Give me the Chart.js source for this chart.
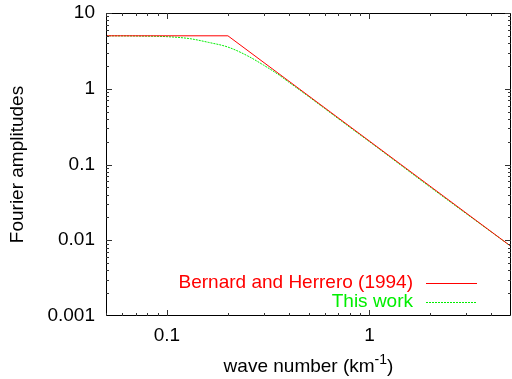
<!DOCTYPE html>
<html>
<head>
<meta charset="utf-8">
<script src="https://cdn.jsdelivr.net/npm/chart.js@4.4.0/dist/chart.umd.min.js"></script>
<style>
  html, body { margin: 0; padding: 0; background: #fff; }
  #wrap { width: 512px; height: 379px; }
</style>
</head>
<body>
<div id="wrap"><canvas id="spectrum" width="512" height="379"></canvas></div>
<script>
const FONT = '"Liberation Sans", Arial, Helvetica, sans-serif';

// wave number (1/km) -> Fourier amplitude
const bhWave = [0.05, 0.2, 5];
const bhAmp = [5, 5, 0.0083];

const fitWave = [0.05, 0.07, 0.1, 0.13, 0.16, 0.2, 0.25, 0.3, 0.35, 0.4, 0.5, 0.6, 0.8, 1, 2, 5];
const fitAmp = [5, 4.97, 4.87, 4.58, 4.1, 3.55, 2.72, 2.05, 1.58, 1.22, 0.79, 0.55, 0.31, 0.2, 0.05, 0.0083];

const xTickValues = [0.1, 1];
const xTickLabels = ["0.1", "1"];
const yTickValues = [0.001, 0.01, 0.1, 1, 10];
const yTickLabels = ["0.001", "0.01", "0.1", "1", "10"];

const seriesNames = ["Bernard and Herrero (1994)", "This work"];
const seriesColors = ["#ff0000", "#00ee00"];

function toPoints(xs, ys) {
  return xs.map((v, i) => ({ x: v, y: ys[i] }));
}

// gnuplot-like frame: border, inward major/minor ticks, legend and axis titles
const framePlugin = {
  id: 'frame',
  afterDatasetsDraw(chart) {
    const { ctx, chartArea: a, scales: { x, y } } = chart;
    ctx.save();
    ctx.strokeStyle = '#000';
    ctx.lineWidth = 1;
    ctx.beginPath();
    ctx.rect(a.left + 0.5, a.top + 0.5, a.right - a.left - 1, a.bottom - a.top - 1);
    ctx.stroke();

    ctx.strokeStyle = '#333';
    ctx.beginPath();
    const xTick = (v, len) => {
      const px = Math.round(x.getPixelForValue(v)) + 0.5;
      if (px < a.left || px > a.right) return;
      ctx.moveTo(px, a.bottom); ctx.lineTo(px, a.bottom - len);
      ctx.moveTo(px, a.top); ctx.lineTo(px, a.top + len);
    };
    const yTick = (v, len) => {
      const py = Math.round(y.getPixelForValue(v)) + 0.5;
      if (py < a.top || py > a.bottom) return;
      ctx.moveTo(a.left, py); ctx.lineTo(a.left + len, py);
      ctx.moveTo(a.right, py); ctx.lineTo(a.right - len, py);
    };
    for (let d = 0.01; d < 10; d *= 10) {
      for (let m = 1; m <= 9; m++) xTick(d * m, m === 1 ? 6 : 3);
    }
    for (let d = 0.001; d <= 10; d *= 10) {
      for (let m = 1; m <= 9; m++) yTick(d * m, m === 1 ? 6 : 3);
    }
    ctx.stroke();

    // key, right aligned inside the plot
    ctx.font = '19px ' + FONT;
    ctx.textAlign = 'right';
    ctx.textBaseline = 'middle';
    chart.data.datasets.forEach((ds, i) => {
      const ly = a.bottom - 33 + i * 19;
      ctx.fillStyle = ds.borderColor;
      ctx.fillText(ds.label, a.right - 98, ly);
      ctx.strokeStyle = ds.borderColor;
      ctx.setLineDash(ds.borderDash || []);
      ctx.beginPath();
      ctx.moveTo(a.right - 85, Math.round(ly) + 0.5);
      ctx.lineTo(a.right - 34, Math.round(ly) + 0.5);
      ctx.stroke();
    });
    ctx.setLineDash([]);

    // axis titles
    ctx.fillStyle = '#000';
    ctx.textBaseline = 'alphabetic';
    ctx.textAlign = 'left';
    const main = 'wave number (km';
    const sup = '-1';
    const close = ')';
    ctx.font = '19px ' + FONT;
    const w1 = ctx.measureText(main).width;
    const w3 = ctx.measureText(close).width;
    ctx.font = '14px ' + FONT;
    const w2 = ctx.measureText(sup).width;
    let tx = (a.left + a.right) / 2 - (w1 + w2 + w3) / 2;
    const base = 372;
    ctx.font = '19px ' + FONT;
    ctx.fillText(main, tx, base);
    ctx.font = '14px ' + FONT;
    ctx.fillText(sup, tx + w1, base - 8);
    ctx.font = '19px ' + FONT;
    ctx.fillText(close, tx + w1 + w2, base);

    ctx.translate(18, (a.top + a.bottom) / 2);
    ctx.rotate(-Math.PI / 2);
    ctx.textAlign = 'center';
    ctx.textBaseline = 'middle';
    ctx.fillText('Fourier amplitudes', 0, 0);
    ctx.restore();
  }
};

new Chart(document.getElementById('spectrum').getContext('2d'), {
  type: 'scatter',
  data: {
    datasets: [
      {
        label: seriesNames[0],
        data: toPoints(bhWave, bhAmp),
        borderColor: seriesColors[0],
        borderWidth: 1,
        showLine: true,
        pointRadius: 0,
        tension: 0
      },
      {
        label: seriesNames[1],
        data: toPoints(fitWave, fitAmp),
        borderColor: seriesColors[1],
        borderWidth: 1,
        borderDash: [2, 1],
        showLine: true,
        pointRadius: 0,
        cubicInterpolationMode: 'monotone'
      }
    ]
  },
  options: {
    responsive: false,
    animation: false,
    devicePixelRatio: 1,
    layout: { padding: { top: 13, right: 1, left: 0, bottom: 0 } },
    plugins: { legend: { display: false }, tooltip: { enabled: false } },
    scales: {
      x: {
        type: 'logarithmic',
        min: 0.05,
        max: 5,
        afterBuildTicks: (scale) => { scale.ticks = xTickValues.map(v => ({ value: v })); },
        afterFit: (scale) => { scale.height = 63; },
        grid: { display: false, drawTicks: false },
        border: { display: false },
        ticks: {
          autoSkip: false,
          maxRotation: 0,
          padding: 8,
          color: '#000',
          font: { family: FONT, size: 19 },
          callback: (v, i) => xTickLabels[i]
        }
      },
      y: {
        type: 'logarithmic',
        min: 0.001,
        max: 10,
        afterBuildTicks: (scale) => { scale.ticks = yTickValues.map(v => ({ value: v })); },
        afterFit: (scale) => {
          scale.width = 106;
          // labels may overhang the frame; keep the plot edges fixed
          scale.paddingTop = 0;
          scale.paddingBottom = 0;
        },
        grid: { display: false, drawTicks: false },
        border: { display: false },
        ticks: {
          autoSkip: false,
          padding: 11,
          color: '#000',
          font: { family: FONT, size: 19 },
          callback: (v, i) => yTickLabels[i]
        }
      }
    }
  },
  plugins: [framePlugin]
});
</script>
</body>
</html>
